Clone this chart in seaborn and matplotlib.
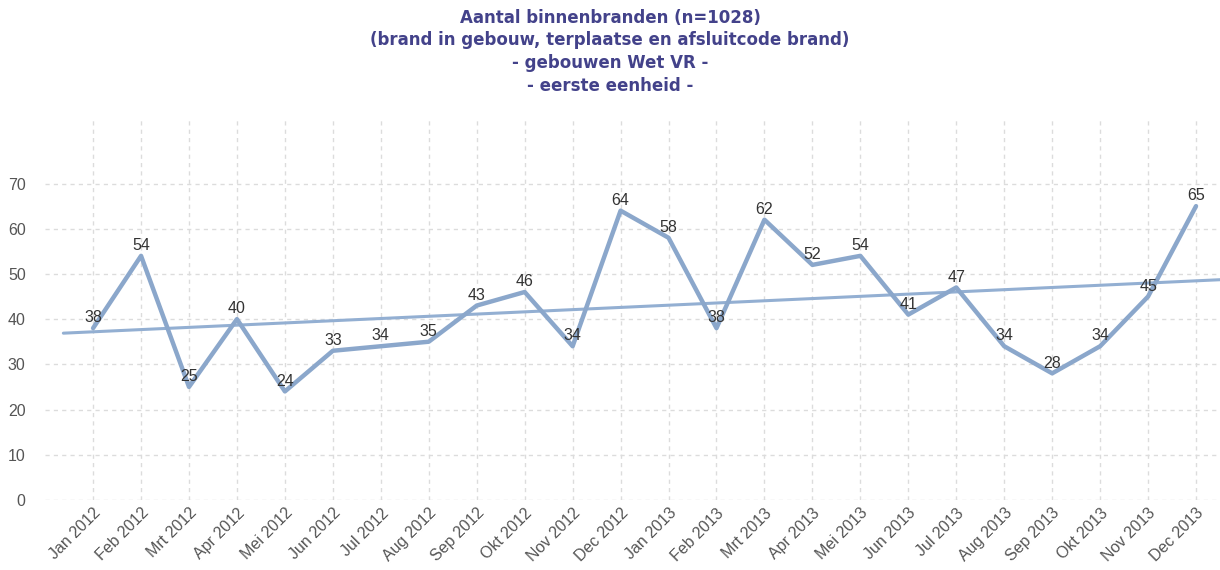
import numpy as np
import pandas as pd
import matplotlib
matplotlib.use("Agg")
import matplotlib.pyplot as plt
import seaborn as sns

months = ["Jan 2012", "Feb 2012", "Mrt 2012", "Apr 2012", "Mei 2012", "Jun 2012",
          "Jul 2012", "Aug 2012", "Sep 2012", "Okt 2012", "Nov 2012", "Dec 2012",
          "Jan 2013", "Feb 2013", "Mrt 2013", "Apr 2013", "Mei 2013", "Jun 2013",
          "Jul 2013", "Aug 2013", "Sep 2013", "Okt 2013", "Nov 2013", "Dec 2013"]
counts = [38, 54, 25, 40, 24, 33, 34, 35, 43, 46, 34, 64,
          58, 38, 62, 52, 54, 41, 47, 34, 28, 34, 45, 65]
yticks = [0, 10, 20, 30, 40, 50, 60, 70]
title_lines = ["Aantal binnenbranden (n=1028)",
               "(brand in gebouw, terplaatse en afsluitcode brand)",
               "- gebouwen Wet VR -",
               "- eerste eenheid -"]

sns.set_style("white")
plt.rcParams['font.family'] = ['Liberation Sans', 'DejaVu Sans']

df = pd.DataFrame({"idx": np.arange(len(months)), "count": counts})

fig = plt.figure(figsize=(12.2, 5.7), dpi=100)
ax = fig.add_axes([0.037, 0.123, 0.963, 0.666])

line_color = "#8ba7cb"
trend_color = "#93afd2"

# trend line (linear fit)
slope, intercept = np.polyfit(df["idx"], df["count"], 1)
tx = np.array([-0.62, 23.5])
ax.plot(tx, intercept + slope * tx, color=trend_color, lw=2.2, zorder=2)

sns.lineplot(data=df, x="idx", y="count", ax=ax, color=line_color, lw=3.2, zorder=3)

for i, v in zip(df["idx"], df["count"]):
    ax.annotate(str(v), (i, v), xytext=(0, 2), textcoords="offset points",
                ha="center", va="bottom", fontsize=11.5, color="#333333", zorder=4)

ax.set_xlim(-1, 23.5)
ax.set_ylim(0, 84)
ax.set_yticks(yticks)
ax.set_xticks(df["idx"])
ax.set_xticklabels(months, rotation=45, ha="right", rotation_mode="anchor")
ax.tick_params(axis="both", length=0, labelsize=11.5, labelcolor="#555555")
ax.tick_params(axis="x", pad=4)
ax.tick_params(axis="y", pad=14)
ax.set_xlabel("")
ax.set_ylabel("")
ax.grid(True, color="#dcdcdc", linestyle=(0, (3, 3)), lw=1)
for s in ax.spines.values():
    s.set_visible(False)

fig.text(0.5, 0.985, "\n".join(title_lines), ha="center", va="top",
         fontsize=12, fontweight="bold", color="#43428a", linespacing=1.35,
         family="DejaVu Sans")

fig.savefig("out.png", dpi=100)
